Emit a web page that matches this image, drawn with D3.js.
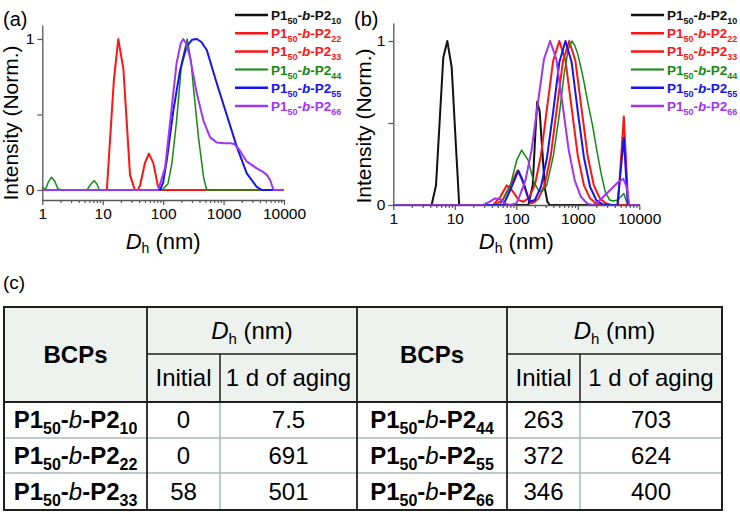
<!DOCTYPE html>
<html><head><meta charset="utf-8">
<script src="https://cdn.jsdelivr.net/npm/d3@7"></script>
<style>body{margin:0;background:#fff}svg{display:block}text{font-family:"Liberation Sans",Arial,sans-serif}</style>
</head><body>
<script>
// ---------------- DATA ----------------
const seriesSubs = ["10","22","33","44","55","66"];
const xTickValues = [1,10,100,1000,10000];
const xTickLabels = ["1","10","100","1000","10000"];
const yTickValues = [0,0.5,1];
const yTickLabels = ["0","","1"];

// (a) initial  [Dh (nm), intensity]
const initP2_10 = [[1,0],[10000,0]];
const initP2_22 = [[1,0],[10000,0]];
const initP2_33 = [[1,0],[11.7,0],[15.3,0.73],[18.1,1.0],[22,0.8],[28.3,0.1],[34,0],[38,0],[41.5,0.03],[50,0.18],[58,0.24],[68.7,0.18],[81.5,0.03],[89,0],[10000,0]];
const initP2_44 = [[1,0.02],[1.12,0],[1.25,0.05],[1.42,0.085],[1.6,0.06],[1.8,0.01],[2,0],[5.5,0],[6.4,0.04],[7.2,0.062],[8,0.04],[8.8,0],[95,0],[120,0.04],[140,0.18],[167,0.46],[202,0.84],[250,1.0],[290,0.85],[317,0.68],[384,0.35],[464,0.09],[526,0],[10000,0]];
const initP2_55 = [[1,0],[89,0],[100,0.05],[115,0.2],[148,0.53],[190,0.79],[244,0.95],[300,0.995],[360,1.0],[430,0.98],[527,0.927],[771,0.707],[1130,0.497],[1652,0.287],[2420,0.11],[3545,0.02],[4330,0],[10000,0]];
const initP2_66 = [[1,0],[83,0],[108,0.15],[139,0.55],[167,0.84],[195,0.97],[215,1.0],[240,0.97],[278,0.88],[360,0.64],[464,0.46],[596,0.35],[771,0.315],[1000,0.31],[1300,0.31],[1500,0.305],[1800,0.27],[2400,0.19],[3500,0.145],[4500,0.12],[5200,0.1],[5900,0.066],[6700,0],[10000,0]];

// (b) 1 d of aging
const agedP2_10 = [[1,0],[4.2,0],[4.95,0.12],[6.5,0.9],[7.55,1.0],[8.9,0.84],[10.5,0.34],[11.8,0],[157,0],[185,0.12],[205,0.45],[219,0.63],[240,0.57],[265,0.33],[292,0.1],[320,0.02],[350,0],[10000,0]];
const agedP2_22 = [[1,0],[45,0],[60,0.03],[80,0.12],[105,0.21],[125,0.16],[150,0.06],[175,0.01],[200,0.02],[229,0.04],[288,0.12],[363,0.3],[457,0.59],[575,0.88],[724,1.0],[912,0.88],[1148,0.59],[1445,0.3],[1820,0.12],[2291,0.04],[2884,0.01],[3500,0],[4500,0],[5600,0.54],[6600,0],[10000,0]];
const agedP2_33 = [[1,0],[42,0],[55,0.05],[70,0.12],[85,0.09],[110,0.03],[130,0.02],[158,0.04],[200,0.12],[251,0.3],[316,0.59],[398,0.88],[501,1.0],[631,0.88],[794,0.59],[1000,0.3],[1259,0.12],[1585,0.04],[1995,0.01],[2500,0],[10000,0]];
const agedP2_44 = [[1,0],[54,0],[79,0.11],[101,0.27],[122,0.335],[157,0.27],[189,0.15],[228,0.09],[260,0.08],[312,0.12],[400,0.3],[500,0.55],[600,0.8],[700,0.95],[800,1.0],[900,0.97],[1000,0.92],[1200,0.79],[1500,0.6],[1750,0.48],[2000,0.35],[2400,0.19],[2800,0.08],[3300,0.03],[3800,0.025],[4400,0.03],[5000,0.05],[5600,0.07],[6200,0.02],[6600,0],[10000,0]];
const agedP2_55 = [[1,0],[61.5,0],[84,0.11],[108,0.21],[138,0.11],[163,0.02],[200,0.03],[251,0.11],[316,0.29],[398,0.57],[501,0.87],[631,1.0],[794,0.87],[1000,0.57],[1259,0.29],[1585,0.11],[1995,0.03],[2500,0.005],[3500,0],[4400,0],[5600,0.41],[6500,0],[10000,0]];
const agedP2_66 = [[1,0],[29,0],[37,0.02],[45,0.04],[55,0.035],[65,0.01],[79,0],[100,0.01],[112,0.05],[141,0.15],[178,0.34],[224,0.62],[282,0.89],[355,1.0],[447,0.89],[562,0.62],[708,0.34],[891,0.15],[1122,0.05],[1413,0.01],[1700,0],[2030,0.01],[2600,0.05],[3340,0.09],[4560,0.14],[5500,0.16],[6240,0.11],[6870,0],[10000,0]];

// table (c)
const tableSubs = ["10","22","33","44","55","66"];
const tableInitial = ["0","0","58","263","372","346"];
const tableAged = ["7.5","691","501","703","624","400"];

// ---------------- STYLE ----------------
const colors = ["#111111","#ff1414","#ff1414","#128a12","#1414f0","#a035f0"];
const widths = [2,2,2,1.5,2,2];
const axisColor = "#555";

const svg = d3.select("body").append("svg").attr("width",740).attr("height",514);
svg.append("rect").attr("width",740).attr("height",514).attr("fill","#fff");

function bcpLabel(sel, subSize, shift, bWeight){
  sel.append("tspan").text("P1");
  sel.append("tspan").attr("font-size",subSize).attr("dy",shift).text("50");
  sel.append("tspan").attr("dy",-shift).text("-");
  sel.append("tspan").attr("font-style","italic").attr("font-weight",bWeight).text("b");
  sel.append("tspan").text("-P2");
  sel.append("tspan").attr("font-size",subSize).attr("dy",shift).text(d=>d);
}

function panel(cfg){
  const g = svg.append("g");
  const x = d3.scaleLog().domain([1,10000]).range([cfg.x0,cfg.x1]);
  const y0 = d3.scaleLinear().domain([0,1]).range([cfg.yZero,cfg.yOne]);
  const y = d3.scaleLinear().domain([y0.invert(cfg.yBot), y0.invert(cfg.yTop)]).range([cfg.yBot,cfg.yTop]);

  // curves
  const line = d3.line().x(d=>x(d[0])).y(d=>y(d[1]));
  cfg.data.forEach((s,i)=>{
    g.append("path").datum(s).attr("d",line).attr("fill","none")
      .attr("stroke",colors[i]).attr("stroke-width",widths[i]).attr("stroke-linejoin","round");
  });

  // x axis
  const minor = [];
  for(let e=0;e<4;e++) for(let k=2;k<=9;k++) minor.push(k*Math.pow(10,e));
  const gx = g.append("g").attr("transform",`translate(0,${cfg.yBot})`)
    .call(d3.axisBottom(x).tickValues(xTickValues).tickSize(5).tickSizeOuter(0)
      .tickFormat((d,i)=>xTickLabels[i]).tickPadding(3));
  const gxm = g.append("g").attr("transform",`translate(0,${cfg.yBot})`)
    .call(d3.axisBottom(x).tickValues(minor).tickSize(3).tickSizeOuter(0).tickFormat(""));
  gxm.select(".domain").remove();
  // y axis
  const gy = g.append("g").attr("transform",`translate(${cfg.x0},0)`)
    .call(d3.axisLeft(y).tickValues(yTickValues).tickSize(5).tickSizeOuter(0)
      .tickFormat((d,i)=>yTickLabels[i]).tickPadding(3));
  [gx,gxm,gy].forEach(a=>{
    a.selectAll(".domain").attr("stroke",axisColor).attr("stroke-width",1.3);
    a.selectAll(".tick line").attr("stroke",axisColor).attr("stroke-width",1.2);
    a.selectAll(".tick text").attr("fill","#000").attr("font-size",15.5).attr("font-family","Liberation Sans, Arial, sans-serif");
  });

  // axis titles
  const xt = g.append("text").attr("x",(cfg.x0+cfg.x1)/2).attr("y",249).attr("text-anchor","middle").attr("font-size",22);
  xt.append("tspan").attr("font-style","italic").text("D");
  xt.append("tspan").attr("font-size",14).attr("dy",4).text("h");
  xt.append("tspan").attr("dy",-4).text(" (nm)");
  g.append("text").attr("transform",`translate(${cfg.ylabX},${cfg.ylabY}) rotate(-90)`)
    .attr("text-anchor","middle").attr("font-size",21).text("Intensity (Norm.)");
  g.append("text").attr("x",cfg.tagX).attr("y",26).attr("font-size",20).text(cfg.tag);

  // legend
  const lg = g.append("g");
  seriesSubs.forEach((s,i)=>{
    const ly = 15 + i*18.2;
    lg.append("line").attr("x1",cfg.legX).attr("x2",cfg.legX+33).attr("y1",ly).attr("y2",ly)
      .attr("stroke",colors[i]).attr("stroke-width",widths[i]+0.5);
    const t = lg.append("text").datum(s).attr("x",cfg.legX+36).attr("y",ly+5)
      .attr("font-size",13.5).attr("font-weight","bold").attr("fill",colors[i]);
    bcpLabel(t,9,4,"bold");
  });
}

panel({x0:42.3,x1:284,yZero:190,yOne:39,yBot:200,yTop:25,ylabX:18,ylabY:123,tagX:3,tag:"(a)",legX:235,
  data:[initP2_10,initP2_22,initP2_33,initP2_44,initP2_55,initP2_66]});
panel({x0:393.3,x1:639.3,yZero:205,yOne:41,yBot:205,yTop:23,ylabX:371,ylabY:126,tagX:354,tag:"(b)",legX:631,
  data:[agedP2_10,agedP2_22,agedP2_33,agedP2_44,agedP2_55,agedP2_66]});

// ---------------- TABLE (c) ----------------
svg.append("text").attr("x",3).attr("y",289).attr("font-size",19).text("(c)");
const cols = [4,147,220,357,507,580,722];
const rows = [307,354,402,438,473,510];
const dark = "#1e1e1e", light = "#a9bab8";
const tg = svg.append("g");
tg.append("rect").attr("x",cols[0]).attr("y",rows[0]).attr("width",cols[6]-cols[0]).attr("height",rows[2]-rows[0]).attr("fill","#edf2ef");
function hl(x1,x2,yy,c,w){tg.append("line").attr("x1",x1).attr("x2",x2).attr("y1",yy).attr("y2",yy).attr("stroke",c).attr("stroke-width",w);}
function vl(xx,y1,y2,c,w){tg.append("line").attr("x1",xx).attr("x2",xx).attr("y1",y1).attr("y2",y2).attr("stroke",c).attr("stroke-width",w);}
hl(cols[1],cols[3],rows[1],dark,1.5); hl(cols[4],cols[6],rows[1],dark,1.5);
hl(cols[0],cols[6],rows[3],light,1.5); hl(cols[0],cols[6],rows[4],light,1.5);
vl(cols[2],rows[2],rows[5],light,1.5); vl(cols[5],rows[2],rows[5],light,1.5);
vl(cols[2],rows[1],rows[2],dark,1.5); vl(cols[5],rows[1],rows[2],dark,1.5);
hl(cols[0],cols[6],rows[2],dark,2);
[1,3,4].forEach(c=>vl(cols[c],rows[0],rows[5],dark,1.8));
tg.append("rect").attr("x",cols[0]).attr("y",rows[0]).attr("width",cols[6]-cols[0]).attr("height",rows[5]-rows[0])
  .attr("fill","none").attr("stroke",dark).attr("stroke-width",2);

const fs = 24;
function ctext(cx,cy,str,bold){
  return tg.append("text").attr("x",cx).attr("y",cy+fs*0.35).attr("text-anchor","middle")
    .attr("font-size",fs).attr("font-weight",bold?"bold":"normal").text(str);
}
[0,3].forEach(c=>{
  const mid = (cols[c]+cols[c+1])/2;
  ctext(mid,(rows[0]+rows[2])/2,"BCPs",true);
  const dm = (cols[c+1]+cols[c+3])/2;
  const dt = tg.append("text").attr("x",dm).attr("y",(rows[0]+rows[1])/2+fs*0.35).attr("text-anchor","middle").attr("font-size",fs);
  dt.append("tspan").attr("font-style","italic").text("D");
  dt.append("tspan").attr("font-size",15).attr("dy",5).text("h");
  dt.append("tspan").attr("dy",-5).text(" (nm)");
  ctext((cols[c+1]+cols[c+2])/2,(rows[1]+rows[2])/2,"Initial",false);
  ctext((cols[c+2]+cols[c+3])/2,(rows[1]+rows[2])/2,"1 d of aging",false);
});
tableSubs.forEach((s,i)=>{
  const c = i<3?0:3, r = i%3;
  const cy = (rows[2+r]+rows[3+r])/2;
  const t = tg.append("text").datum(s).attr("x",(cols[c]+cols[c+1])/2).attr("y",cy+fs*0.35)
    .attr("text-anchor","middle").attr("font-size",fs).attr("font-weight","bold");
  bcpLabel(t,16,6,"normal");
  ctext((cols[c+1]+cols[c+2])/2,cy,tableInitial[i],false);
  ctext((cols[c+2]+cols[c+3])/2,cy,tableAged[i],false);
});
</script>
</body></html>
